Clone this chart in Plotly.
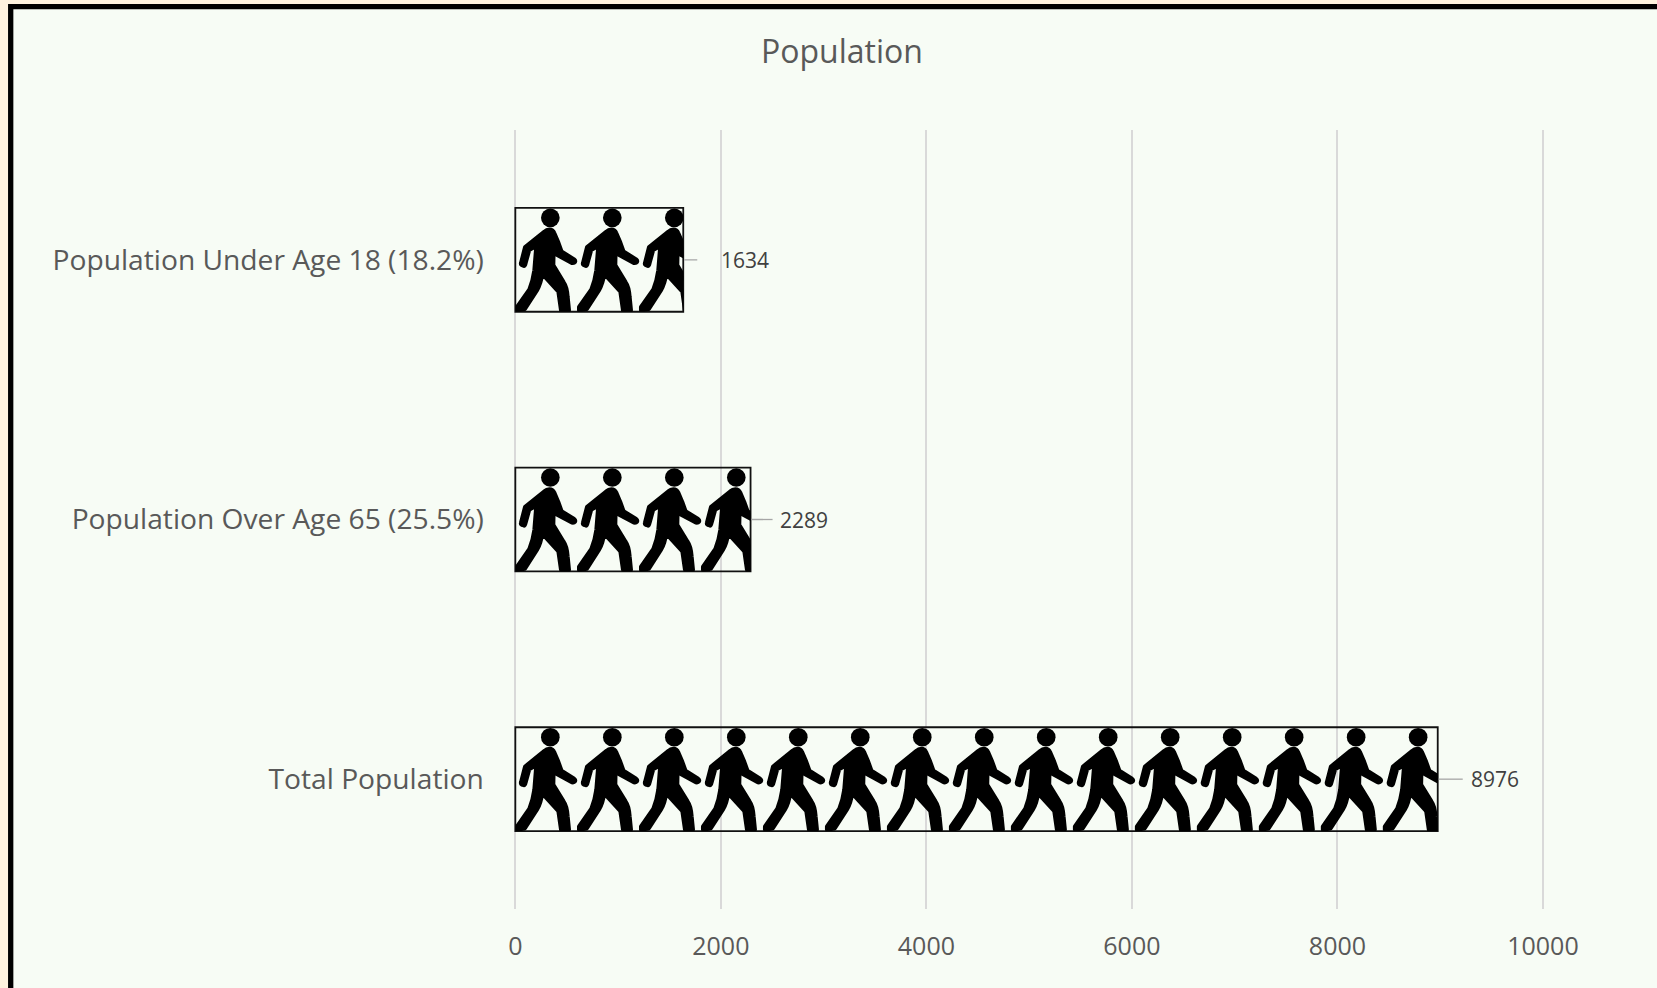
import base64
import plotly.graph_objects as go

categories = ["Total Population", "Population Over Age 65 (25.5%)", "Population Under Age 18 (18.2%)"]
values = [8976, 2289, 1634]
x_ticks = [0, 2000, 4000, 6000, 8000, 10000]
chart_title = "Population"

W, H = 1657, 988
X0, X1 = 513.8, 1544.5
Y0, Y1 = 130.0, 909.0
FONT = "Open Sans"
GREY = "#595959"
leader_px = [25, 22, 14]
label_px = [31, 27, 36]
TILE_VALUE = 603.2          # one walker stands for this many people
TILE_W, TILE_H = 186.0, 313.0

WALKER = (
    '<circle cx="153" cy="82" r="28"/>'
    '<path stroke="#000" stroke-width="14" stroke-linejoin="round" '
    'd="M150 118 C158 118 161 120 164 128 L176 156 L186 184 L224 208 Q228 211 226 215 '
    'Q224 218 218 217 L174 193 L162 176 L161 225 L192 276 Q202 290 204 320 L208 360 L186 360 '
    'L178 304 L128 249 Q124 280 112 300 L76 356 L54 360 L54 351 L91 298 Q102 270 106 240 '
    'L112 165 L89 178 L78 218 Q76 228 72 225 Q64 224 66 218 L78 171 L136 124 Q142 118 150 118 Z"/>'
)


def walker_image(value):
    n = value / TILE_VALUE
    width = n * TILE_W
    tiles = "".join(
        f'<g transform="translate({i * TILE_W - 48:.1f},-52)">{WALKER}</g>'
        for i in range(int(n) + 2)
    )
    svg = (
        f'<svg xmlns="http://www.w3.org/2000/svg" viewBox="0 0 {width:.1f} {TILE_H}" '
        f'preserveAspectRatio="none" fill="#000">{tiles}</svg>'
    )
    return "data:image/svg+xml;base64," + base64.b64encode(svg.encode()).decode()


fig = go.Figure(
    go.Bar(
        y=categories, x=values, orientation="h", width=0.4,
        marker=dict(color="rgba(0,0,0,0)", line=dict(color="#111111", width=1.8)),
        hoverinfo="x+y",
    )
)

images, shapes, annotations = [], [], []
for i, (cat, val) in enumerate(zip(categories, values)):
    images.append(dict(
        source=walker_image(val), xref="x", yref="y", x=0, y=i, sizex=val, sizey=0.4,
        xanchor="left", yanchor="middle", sizing="stretch", layer="above",
    ))
    shapes.append(dict(
        type="line", xref="x", yref="y", xsizemode="pixel", xanchor=val,
        x0=1, x1=leader_px[i], y0=i, y1=i, line=dict(color="#A6A6A6", width=1.3),
    ))
    annotations.append(dict(
        x=val, y=i, xref="x", yref="y", xshift=label_px[i], xanchor="left", yanchor="middle",
        text=str(val), showarrow=False, font=dict(family=FONT, size=21, color="#404040"),
    ))

shapes.insert(0, dict(
    type="rect", xref="paper", yref="paper", layer="below",
    x0=10.7 / W, x1=(W + 20) / W, y0=-20 / H, y1=1 - 6.7 / H,
    fillcolor="#F7FCF5", line=dict(color="#000000", width=5.3),
))

fig.update_layout(
    width=W, height=H, margin=dict(l=0, r=0, t=0, b=0),
    paper_bgcolor="#FFF3DF", plot_bgcolor="rgba(0,0,0,0)",
    showlegend=False, bargap=0.6,
    title=dict(
        text=chart_title, x=842 / W, y=1 - 52 / H, xref="paper", yref="paper",
        xanchor="center", yanchor="middle", font=dict(family=FONT, size=32, color=GREY),
    ),
    xaxis=dict(
        domain=[X0 / W, X1 / W], range=[-15, 10015], tickmode="array", tickvals=x_ticks,
        tickformat="d", automargin=False,
        showgrid=True, gridcolor="#D9D9D9", gridwidth=2,
        zeroline=True, zerolinecolor="#D9D9D9", zerolinewidth=2,
        showline=False, ticks="", ticklabelstandoff=20,
        tickfont=dict(family=FONT, size=25, color=GREY),
    ),
    yaxis=dict(
        domain=[1 - Y1 / H, 1 - Y0 / H], type="category", range=[-0.5, 2.5], automargin=False,
        showgrid=False, zeroline=False, showline=False, ticks="", ticklabelstandoff=29,
        tickfont=dict(family=FONT, size=28.2, color=GREY),
    ),
    images=images, shapes=shapes, annotations=annotations,
)

fig.write_html("out.html", config={"displayModeBar": False},
               post_script="document.body.style.margin='0';")
